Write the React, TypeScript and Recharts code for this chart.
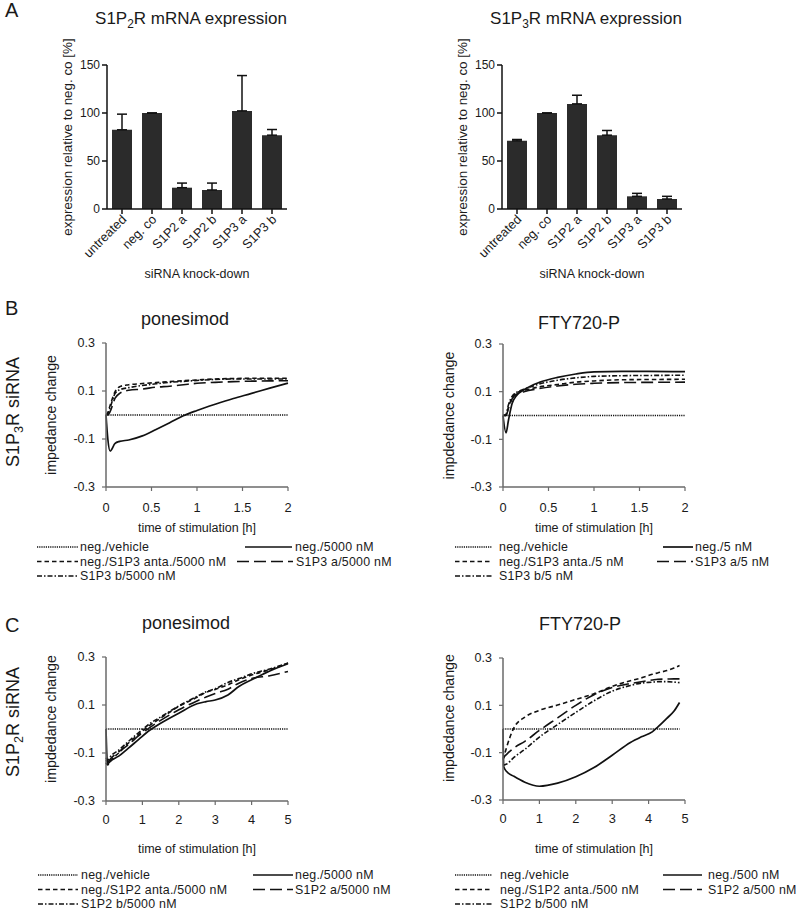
import React from "react";
import { BarChart, Bar, ErrorBar, LineChart, Line, XAxis, YAxis, Label } from "recharts";

// ---- A: qPCR knock-down ----
const categories = ["untreated", "neg. co", "S1P2 a", "S1P2 b", "S1P3 a", "S1P3 b"];
const s1p2Expr = [82.5, 100, 22.2, 19.8, 102.2, 76.9];
const s1p2Sd = [16.3, 0, 4.8, 7.2, 36.8, 5.9];
const s1p3Expr = [71, 100, 109.5, 76.9, 13.2, 10.4];
const s1p3Sd = [1.4, 0, 9, 4.9, 3.1, 2.8];
const exprTicks = [0, 50, 100, 150];

// ---- impedance axes ----
const impTicks = [-0.3, -0.1, 0.1, 0.3];
const shortTimeTicks = [0, 0.5, 1, 1.5, 2];
const longTimeTicks = [0, 1, 2, 3, 4, 5];

// ---- B: S1P3R siRNA, ponesimod ----
const bPonTime = [0, 0.02, 0.045, 0.1, 0.15, 0.25, 0.4, 0.55, 0.7, 0.85, 1.0, 1.2, 1.4, 1.6, 1.8, 2.0];
const bPonVehicle = [0, 0, 0, 0, 0, 0, 0, 0, 0, 0, 0, 0, 0, 0, 0, 0];
const bPonDrug = [0, -0.1, -0.15, -0.118, -0.11, -0.104, -0.087, -0.06, -0.032, -0.003, 0.019, 0.045, 0.069, 0.09, 0.112, 0.133];
const bPonAnta = [0, 0.01, 0.04, 0.097, 0.118, 0.126, 0.131, 0.135, 0.139, 0.143, 0.146, 0.15, 0.152, 0.153, 0.153, 0.153];
const bPonSiA = [0, 0, 0.014, 0.07, 0.09, 0.103, 0.108, 0.116, 0.12, 0.126, 0.132, 0.136, 0.139, 0.141, 0.142, 0.143];
const bPonSiB = [0, 0.005, 0.03, 0.09, 0.105, 0.114, 0.123, 0.13, 0.136, 0.14, 0.144, 0.148, 0.15, 0.15, 0.15, 0.15];

// ---- B: S1P3R siRNA, FTY720-P ----
const bFtyTime = [0, 0.033, 0.06, 0.1, 0.15, 0.23, 0.4, 0.6, 0.8, 1.0, 1.3, 1.6, 2.0];
const bFtyVehicle = [0, 0, 0, 0, 0, 0, 0, 0, 0, 0, 0, 0, 0];
const bFtyDrug = [0, -0.073, -0.02, 0.05, 0.084, 0.108, 0.139, 0.16, 0.174, 0.183, 0.185, 0.185, 0.184];
const bFtyAnta = [0, 0, 0.035, 0.075, 0.095, 0.105, 0.12, 0.13, 0.14, 0.145, 0.15, 0.151, 0.152];
const bFtySiA = [0, 0, 0.03, 0.07, 0.09, 0.1, 0.113, 0.124, 0.131, 0.135, 0.138, 0.139, 0.14];
const bFtySiB = [0, 0.005, 0.045, 0.08, 0.097, 0.11, 0.132, 0.148, 0.158, 0.164, 0.167, 0.168, 0.169];

// ---- C: S1P2R siRNA, ponesimod ----
const cPonTime = [0, 0.04, 0.15, 0.35, 0.6, 0.9, 1.2, 1.5, 2.0, 2.5, 2.75, 3.0, 3.35, 3.65, 4.0, 4.5, 5.0];
const cPonVehicle = [0, 0, 0, 0, 0, 0, 0, 0, 0, 0, 0, 0, 0, 0, 0, 0, 0];
const cPonDrug = [0, -0.144, -0.13, -0.113, -0.082, -0.043, -0.005, 0.024, 0.066, 0.105, 0.114, 0.121, 0.142, 0.177, 0.205, 0.242, 0.272];
const cPonAnta = [-0.14, -0.15, -0.128, -0.1, -0.061, -0.022, 0.015, 0.045, 0.094, 0.132, 0.153, 0.165, 0.184, 0.205, 0.225, 0.247, 0.275];
const cPonSiA = [-0.13, -0.137, -0.12, -0.095, -0.067, -0.028, 0.006, 0.036, 0.08, 0.117, 0.133, 0.148, 0.166, 0.191, 0.21, 0.222, 0.24];
const cPonSiB = [-0.12, -0.13, -0.11, -0.088, -0.054, -0.015, 0.022, 0.05, 0.096, 0.136, 0.155, 0.168, 0.194, 0.21, 0.23, 0.25, 0.275];

// ---- C: S1P2R siRNA, FTY720-P ----
const cFtyTime = [0, 0.02, 0.1, 0.3, 0.6, 1.0, 1.5, 2.0, 2.5, 3.0, 3.5, 3.8, 4.1, 4.25, 4.5, 4.7, 4.85];
const cFtyVehicle = [0, 0, 0, 0, 0, 0, 0, 0, 0, 0, 0, 0, 0, 0, 0, 0, 0];
const cFtyDrug = [0, -0.16, -0.18, -0.2, -0.225, -0.242, -0.229, -0.202, -0.163, -0.111, -0.057, -0.033, -0.012, 0.008, 0.045, 0.076, 0.112];
const cFtyAnta = [-0.13, -0.12, -0.077, 0.005, 0.05, 0.079, 0.101, 0.125, 0.149, 0.18, 0.204, 0.216, 0.231, 0.237, 0.247, 0.258, 0.268];
const cFtySiA = [-0.124, -0.12, -0.107, -0.08, -0.052, -0.006, 0.047, 0.1, 0.145, 0.175, 0.192, 0.2, 0.207, 0.21, 0.211, 0.212, 0.212];
const cFtySiB = [-0.15, -0.152, -0.148, -0.12, -0.086, -0.034, 0.019, 0.07, 0.119, 0.16, 0.184, 0.194, 0.198, 0.2, 0.2, 0.198, 0.196];

// ---- legend labels ----
const bPonLegend = ["neg./vehicle", "neg./5000 nM", "neg./S1P3 anta./5000 nM", "S1P3 a/5000 nM", "S1P3 b/5000 nM"];
const bFtyLegend = ["neg./vehicle", "neg./5 nM", "neg./S1P3 anta./5 nM", "S1P3 a/5 nM", "S1P3 b/5 nM"];
const cPonLegend = ["neg./vehicle", "neg./5000 nM", "neg./S1P2 anta./5000 nM", "S1P2 a/5000 nM", "S1P2 b/5000 nM"];
const cFtyLegend = ["neg./vehicle", "neg./500 nM", "neg./S1P2 anta./500 nM", "S1P2 a/500 nM", "S1P2 b/500 nM"];

const FONT = '"Liberation Sans", Arial, sans-serif';
const INK = "#1a1a1a";
const AXIS_GRAY = "#6a6a6a";

const seriesKeys = ["vehicle", "drug", "anta", "siA", "siB"];
const seriesStyle: Record<string, { dash?: string; width: number; type: "monotone" | "linear" }> = {
  vehicle: { dash: "1.2 1", width: 1.5, type: "linear" },
  drug: { width: 1.7, type: "monotone" },
  anta: { dash: "4.5 3", width: 1.6, type: "monotone" },
  siA: { dash: "12 5", width: 1.6, type: "monotone" },
  siB: { dash: "5 2 1.5 2", width: 1.6, type: "monotone" },
};

function exprRows(values: number[], sd: number[]) {
  return categories.map((name, i) => ({ name, value: values[i], sd: [0, sd[i]] }));
}

function timeRows(time: number[], vehicle: number[], drug: number[], anta: number[], siA: number[], siB: number[]) {
  return time.map((t, i) => ({ t, vehicle: vehicle[i], drug: drug[i], anta: anta[i], siA: siA[i], siB: siB[i] }));
}

function RotatedTick(props: any) {
  const { x, y, payload } = props;
  return (
    <g transform={`translate(${x + 2},${y})`}>
      <text textAnchor="end" transform="rotate(-45)" dy="0.35em" fontSize={12.8} fill={INK}>
        {payload.value}
      </text>
    </g>
  );
}

function ExpressionChart({ left, values, sd, yAxisWidth, marginRight, labelDx }: any) {
  return (
    <div style={{ position: "absolute", left, top: 0 }}>
      <BarChart
        width={400}
        height={290}
        data={exprRows(values, sd)}
        margin={{ top: 65, right: marginRight, bottom: 0, left: 0 }}
      >
        <XAxis
          dataKey="name"
          interval={0}
          height={81}
          tickSize={5}
          tickMargin={3}
          tick={(p: any) => <RotatedTick {...p} />}
          axisLine={{ stroke: "#111", strokeWidth: 1.5 }}
          tickLine={{ stroke: "#111", strokeWidth: 1.5 }}
        >
          <Label value="siRNA knock-down" position="insideBottom" offset={12} fontSize={12.5} fill={INK} />
        </XAxis>
        <YAxis
          width={yAxisWidth}
          domain={[0, 150]}
          ticks={exprTicks}
          tickSize={5}
          tickMargin={2}
          tick={{ fontSize: 12, fill: INK }}
          axisLine={{ stroke: "#111", strokeWidth: 1.5 }}
          tickLine={{ stroke: "#111", strokeWidth: 1.5 }}
        >
          <Label
            value="expression relative to neg. co [%]"
            angle={-90}
            position="center"
            dx={labelDx}
            fontSize={13.4}
            fill={INK}
          />
        </YAxis>
        <Bar dataKey="value" fill="#2b2b2b" barSize={20} isAnimationActive={false}>
          <ErrorBar dataKey="sd" width={5} stroke="#111" strokeWidth={1.5} direction="y" />
        </Bar>
      </BarChart>
    </div>
  );
}

function ImpedanceChart(props: any) {
  const {
    left, top, height, yAxisWidth, marginRight, marginTop, xAxisHeight,
    data, xMax, xTicks, yLabel, labelDx, labelDy, xLabelOffset, xTickMargin,
  } = props;
  return (
    <div style={{ position: "absolute", left, top }}>
      <LineChart
        width={400}
        height={height}
        data={data}
        margin={{ top: marginTop, right: marginRight, bottom: 0, left: 0 }}
      >
        <XAxis
          type="number"
          dataKey="t"
          domain={[0, xMax]}
          ticks={xTicks}
          height={xAxisHeight}
          tickSize={4}
          tickMargin={xTickMargin}
          tick={{ fontSize: 12.8, fill: INK }}
          axisLine={{ stroke: AXIS_GRAY, strokeWidth: 1.5 }}
          tickLine={{ stroke: AXIS_GRAY, strokeWidth: 1.2 }}
        >
          <Label value="time of stimulation [h]" position="insideBottom" offset={xLabelOffset} fontSize={12.5} fill={INK} />
        </XAxis>
        <YAxis
          type="number"
          width={yAxisWidth}
          domain={[-0.3, 0.3]}
          ticks={impTicks}
          tickSize={4}
          tickMargin={7}
          tick={{ fontSize: 12.5, fill: INK }}
          axisLine={{ stroke: AXIS_GRAY, strokeWidth: 1.5 }}
          tickLine={{ stroke: AXIS_GRAY, strokeWidth: 1.2 }}
        >
          <Label value={yLabel} angle={-90} position="center" dx={labelDx} dy={labelDy} fontSize={14.2} fill={INK} />
        </YAxis>
        {seriesKeys.map((k) => (
          <Line
            key={k}
            type={seriesStyle[k].type}
            dataKey={k}
            stroke="#111"
            strokeWidth={seriesStyle[k].width}
            strokeDasharray={seriesStyle[k].dash}
            dot={false}
            activeDot={false}
            isAnimationActive={false}
          />
        ))}
      </LineChart>
    </div>
  );
}

// cols: one entry per series -> [row, sampleStart, sampleEnd, textX]
function LegendBlock({ labels, rows, cols }: { labels: string[]; rows: number[]; cols: number[][] }) {
  return (
    <g>
      {seriesKeys.map((k, i) => {
        const [row, x0, x1, tx] = cols[i];
        const y = rows[row];
        const s = seriesStyle[k];
        return (
          <g key={k}>
            <line x1={x0} x2={x1} y1={y} y2={y} stroke="#111" strokeWidth={s.width} strokeDasharray={s.dash} />
            <text x={tx} y={y} dy="0.35em" fontSize={12.4} letterSpacing={0.25} fill={INK}>
              {labels[i]}
            </text>
          </g>
        );
      })}
    </g>
  );
}

function Sub({ children }: { children: string }) {
  return (
    <tspan dy={4} fontSize="0.7em">
      {children}
    </tspan>
  );
}

export default function App() {
  return (
    <div
      style={{
        position: "absolute",
        left: 0,
        top: 0,
        width: 800,
        height: 913,
        background: "#fff",
        fontFamily: FONT,
        color: INK,
      }}
    >
      <ExpressionChart left={0} values={s1p2Expr} sd={s1p2Sd} yAxisWidth={107} marginRight={113} labelDx={13.5} />
      <ExpressionChart left={400} values={s1p3Expr} sd={s1p3Sd} yAxisWidth={102} marginRight={118} labelDx={11} />

      <ImpedanceChart
        left={0} top={330} height={210} yAxisWidth={106} marginRight={112} marginTop={13} xAxisHeight={53}
        data={timeRows(bPonTime, bPonVehicle, bPonDrug, bPonAnta, bPonSiA, bPonSiB)}
        xMax={2} xTicks={shortTimeTicks} yLabel="impedance change" labelDx={-2} labelDy={0}
        xLabelOffset={8} xTickMargin={12}
      />
      <ImpedanceChart
        left={400} top={330} height={210} yAxisWidth={103} marginRight={115} marginTop={14} xAxisHeight={53}
        data={timeRows(bFtyTime, bFtyVehicle, bFtyDrug, bFtyAnta, bFtySiA, bFtySiB)}
        xMax={2} xTicks={shortTimeTicks} yLabel="impdedance change" labelDx={-2.5} labelDy={0}
        xLabelOffset={8} xTickMargin={12}
      />
      <ImpedanceChart
        left={0} top={640} height={225} yAxisWidth={106} marginRight={112} marginTop={17} xAxisHeight={64}
        data={timeRows(cPonTime, cPonVehicle, cPonDrug, cPonAnta, cPonSiA, cPonSiB)}
        xMax={5} xTicks={longTimeTicks} yLabel="impdedance change" labelDx={-2} labelDy={-10}
        xLabelOffset={12} xTickMargin={10}
      />
      <ImpedanceChart
        left={400} top={640} height={225} yAxisWidth={103} marginRight={115} marginTop={18} xAxisHeight={65}
        data={timeRows(cFtyTime, cFtyVehicle, cFtyDrug, cFtyAnta, cFtySiA, cFtySiB)}
        xMax={5} xTicks={longTimeTicks} yLabel="impdedance change" labelDx={-2.5} labelDy={-11}
        xLabelOffset={12} xTickMargin={10}
      />

      <svg
        width={800}
        height={913}
        style={{ position: "absolute", left: 0, top: 0, pointerEvents: "none", fontFamily: FONT }}
      >
        <text x={5} y={17} fontSize={20} fill={INK}>A</text>
        <text x={5} y={315} fontSize={20} fill={INK}>B</text>
        <text x={5} y={632} fontSize={20} fill={INK}>C</text>

        <text x={191} y={24} fontSize={17} textAnchor="middle" fill={INK}>
          S1P<Sub>2</Sub>
          <tspan dy={-4}>R mRNA expression</tspan>
        </text>
        <text x={586} y={24} fontSize={17} textAnchor="middle" fill={INK}>
          S1P<Sub>3</Sub>
          <tspan dy={-4}>R mRNA expression</tspan>
        </text>

        <text x={185} y={325} fontSize={18} textAnchor="middle" fill={INK}>ponesimod</text>
        <text x={579} y={329} fontSize={18} textAnchor="middle" fill={INK}>FTY720-P</text>
        <text x={186} y={629} fontSize={18} textAnchor="middle" fill={INK}>ponesimod</text>
        <text x={580} y={630} fontSize={18} textAnchor="middle" fill={INK}>FTY720-P</text>

        <text x={19} y={412} fontSize={18} textAnchor="middle" transform="rotate(-90 19 412)" fill={INK}>
          S1P<Sub>3</Sub>
          <tspan dy={-4}>R siRNA</tspan>
        </text>
        <text x={19} y={722} fontSize={18} textAnchor="middle" transform="rotate(-90 19 722)" fill={INK}>
          S1P<Sub>2</Sub>
          <tspan dy={-4}>R siRNA</tspan>
        </text>

        <LegendBlock
          labels={bPonLegend}
          rows={[547, 561.5, 576]}
          cols={[[0, 37, 78, 80], [0, 245, 292, 295], [1, 37, 78, 80], [1, 237, 293, 296], [2, 37, 77, 80]]}
        />
        <LegendBlock
          labels={bFtyLegend}
          rows={[547, 561.5, 576]}
          cols={[[0, 455, 492, 499], [0, 663, 693, 695], [1, 455, 492, 499], [1, 657, 693, 695], [2, 455, 492, 499]]}
        />
        <LegendBlock
          labels={cPonLegend}
          rows={[875, 889.5, 904]}
          cols={[[0, 38, 78, 81], [0, 253, 293, 295], [1, 38, 78, 81], [1, 253, 293, 295], [2, 38, 78, 81]]}
        />
        <LegendBlock
          labels={cFtyLegend}
          rows={[875, 889.5, 904]}
          cols={[[0, 455, 492, 500], [0, 663, 702, 708], [1, 455, 492, 500], [1, 663, 702, 708], [2, 455, 492, 500]]}
        />
      </svg>
    </div>
  );
}
